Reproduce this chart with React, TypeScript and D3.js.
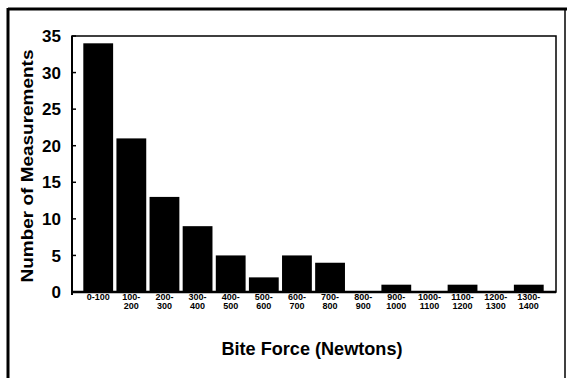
import React from "react";
import * as d3 from "d3";

const categories: string[][] = [
  ["0-100"],
  ["100-", "200"],
  ["200-", "300"],
  ["300-", "400"],
  ["400-", "500"],
  ["500-", "600"],
  ["600-", "700"],
  ["700-", "800"],
  ["800-", "900"],
  ["900-", "1000"],
  ["1000-", "1100"],
  ["1100-", "1200"],
  ["1200-", "1300"],
  ["1300-", "1400"],
];
const counts: number[] = [34, 21, 13, 9, 5, 2, 5, 4, 0, 1, 0, 1, 0, 1];
const yTicks: number[] = [0, 5, 10, 15, 20, 25, 30, 35];

const W = 567;
const H = 378;
const FONT = "'Liberation Sans', Arial, Helvetica, sans-serif";

export default function App() {
  const left = 72;
  const right = 556;
  const top = 36;
  const bottom = 292;
  const keys = categories.map((c) => c.join(""));
  const x = d3.scaleBand<string>().domain(keys).range([80, 547]).paddingInner(0.1).paddingOuter(0.1);
  const y = d3.scaleLinear().domain([0, 35]).range([bottom, top]);

  return (
    <svg
      width={W}
      height={H}
      style={{ position: "absolute", left: 0, top: 0, background: "#fff" }}
      fontFamily={FONT}
    >
      <rect x={0} y={0} width={W} height={H} fill="#fff" />
      {/* outer frame */}
      <line x1={8} x2={567} y1={9} y2={9} stroke="#000" strokeWidth={3} />
      <line x1={8} x2={8} y1={8} y2={378} stroke="#000" strokeWidth={3} />
      <line x1={565} x2={565} y1={8} y2={378} stroke="#000" strokeWidth={1.5} />
      {/* plot frame */}
      <rect x={left} y={top} width={right - left} height={bottom - top} fill="none" stroke="#000" strokeWidth={1.5} />
      <line x1={left} x2={left} y1={top} y2={bottom + 3} stroke="#000" strokeWidth={2} />
      <line x1={left} x2={right} y1={bottom} y2={bottom} stroke="#000" strokeWidth={2.5} />
      {/* bars */}
      {counts.map((v, i) => (
        <rect
          key={i}
          x={x(keys[i])!}
          y={y(v)}
          width={x.bandwidth()}
          height={Math.max(0, bottom - y(v))}
          fill="#000"
        />
      ))}
      {/* y ticks */}
      {yTicks.map((t) => (
        <g key={t}>
          <line x1={left} x2={left + 4} y1={y(t)} y2={y(t)} stroke="#000" strokeWidth={1.5} />
          <text
            x={61}
            y={y(t)}
            dy="0.36em"
            textAnchor="end"
            fontSize={17}
            fontWeight={900}
            fill="#000"
          >
            {t}
          </text>
        </g>
      ))}
      {/* x labels */}
      {categories.map((c, i) => (
        <text
          key={i}
          x={x(keys[i])! + x.bandwidth() / 2}
          y={300}
          textAnchor="middle"
          fontSize={9}
          fontWeight={900}
          fill="#000"
        >
          {c.map((line, j) => (
            <tspan key={j} x={x(keys[i])! + x.bandwidth() / 2} dy={j === 0 ? 0 : 9}>
              {line}
            </tspan>
          ))}
        </text>
      ))}
      {/* axis titles */}
      <text
        x={312}
        y={355}
        textAnchor="middle"
        fontSize={18}
        fontWeight={900}
        fill="#000"
        textLength={181}
        lengthAdjust="spacingAndGlyphs"
      >
        Bite Force (Newtons)
      </text>
      <text
        transform={`translate(33,166) rotate(-90)`}
        textAnchor="middle"
        fontSize={17}
        fontWeight={900}
        fill="#000"
        textLength={233}
        lengthAdjust="spacingAndGlyphs"
      >
        Number of Measurements
      </text>
    </svg>
  );
}
